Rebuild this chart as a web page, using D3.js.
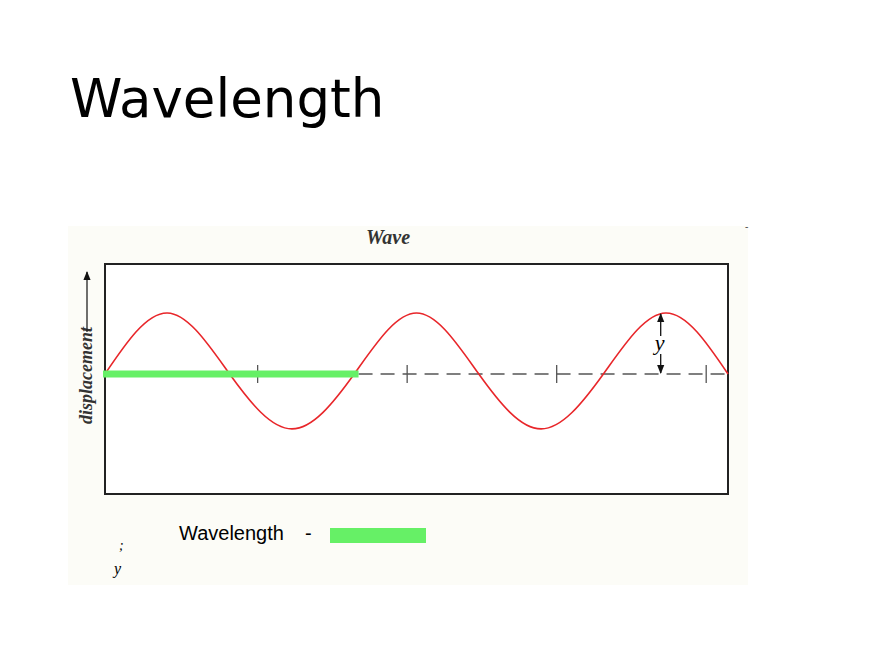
<!DOCTYPE html>
<html><head><meta charset="utf-8">
<script src="https://cdn.jsdelivr.net/npm/d3@7"></script>
<style>body{margin:0;background:#fff}</style></head>
<body><svg id="c" width="880" height="660"></svg>
<script>
// quarter-wavelength positions and displacement
const quarterX = [0,1,2,3,4,5,6,7,8,9,10];
const displacement = [0,1,0,-0.9,0,1,0,-0.9,0,1,0];
const tickQuarters = [2.45,4.85,7.25,9.65];
const wavelengthQuarters = [0,4.07];

const svg = d3.select("#c");
svg.append("text").attr("x",70).attr("y",117).attr("font-family","DejaVu Sans").attr("font-size",53).text("Wavelength");
svg.append("rect").attr("x",68).attr("y",226).attr("width",680).attr("height",359).attr("fill","#fcfcf7");
svg.append("text").attr("x",745).attr("y",230).attr("font-size",10).attr("fill","#444").text("-");

const x = d3.scaleLinear().domain([0,10]).range([105,728]);
const y = d3.scaleLinear().domain([0,1]).range([374,313]);
const y0 = y(0);

svg.append("rect").attr("x",105).attr("y",264).attr("width",623).attr("height",230).attr("fill","#fff").attr("stroke","#222").attr("stroke-width",2);
svg.append("text").attr("x",388).attr("y",244).attr("text-anchor","middle").attr("font-family","Liberation Serif").attr("font-weight","bold").attr("font-style","italic").attr("font-size",20).attr("fill","#333").text("Wave");

// dashed axis
svg.append("line").attr("x1",x(wavelengthQuarters[1])).attr("x2",728).attr("y1",y0).attr("y2",y0).attr("stroke","#555").attr("stroke-width",1.3).attr("stroke-dasharray","14,8");
svg.selectAll(".tk").data(tickQuarters).enter().append("line").attr("x1",d=>x(d)).attr("x2",d=>x(d)).attr("y1",y0-9).attr("y2",y0+9).attr("stroke","#555").attr("stroke-width",1.3);

// wave
const line = d3.line().x((d,i)=>x(quarterX[i])).y(d=>y(d)).curve(d3.curveNatural);
svg.append("path").attr("d",line(displacement)).attr("fill","none").attr("stroke","#e8262a").attr("stroke-width",1.6);

// green wavelength bar
svg.append("line").attr("x1",x(wavelengthQuarters[0])-2).attr("x2",x(wavelengthQuarters[1])).attr("y1",y0).attr("y2",y0).attr("stroke","#66f066").attr("stroke-width",7);

// amplitude arrow
const ax = x(9)-5;
svg.append("defs").html('<marker id="ah" viewBox="0 0 10 10" refX="9" refY="5" markerWidth="7" markerHeight="7" orient="auto"><path d="M0,1L10,5L0,9z" fill="#111"/></marker>');
svg.append("line").attr("x1",ax).attr("x2",ax).attr("y1",(y(1)+y0)/2).attr("y2",y(1)+1).attr("stroke","#111").attr("stroke-width",1.3).attr("marker-end","url(#ah)");
svg.append("line").attr("x1",ax).attr("x2",ax).attr("y1",(y(1)+y0)/2).attr("y2",y0-1).attr("stroke","#111").attr("stroke-width",1.3).attr("marker-end","url(#ah)");
svg.append("rect").attr("x",ax-7).attr("y",336).attr("width",14).attr("height",18).attr("fill","#fff");
svg.append("text").attr("x",ax-6).attr("y",350).attr("font-family","Liberation Serif").attr("font-style","italic").attr("font-size",22).text("y");

// y label
svg.append("text").attr("transform","translate(92,424) rotate(-90)").attr("font-family","Liberation Serif").attr("font-weight","bold").attr("font-style","italic").attr("font-size",18).attr("fill","#333").text("displacement");
svg.append("line").attr("x1",87).attr("x2",87).attr("y1",332).attr("y2",272).attr("stroke","#222").attr("stroke-width",1.3).attr("marker-end","url(#ah)");

// legend
svg.append("text").attr("x",179).attr("y",540).attr("font-family","Liberation Sans Narrow, Liberation Sans").attr("font-size",20).text("Wavelength");
svg.append("text").attr("x",305).attr("y",540).attr("font-family","Liberation Sans").attr("font-size",20).text("-");
svg.append("rect").attr("x",330).attr("y",528).attr("width",96).attr("height",15).attr("fill","#66f066");
svg.append("text").attr("x",119).attr("y",550).attr("font-family","Liberation Serif").attr("font-style","italic").attr("font-size",14).text(";");
svg.append("text").attr("x",114).attr("y",574).attr("font-family","Liberation Serif").attr("font-style","italic").attr("font-size",16).text("y");
</script></body></html>
